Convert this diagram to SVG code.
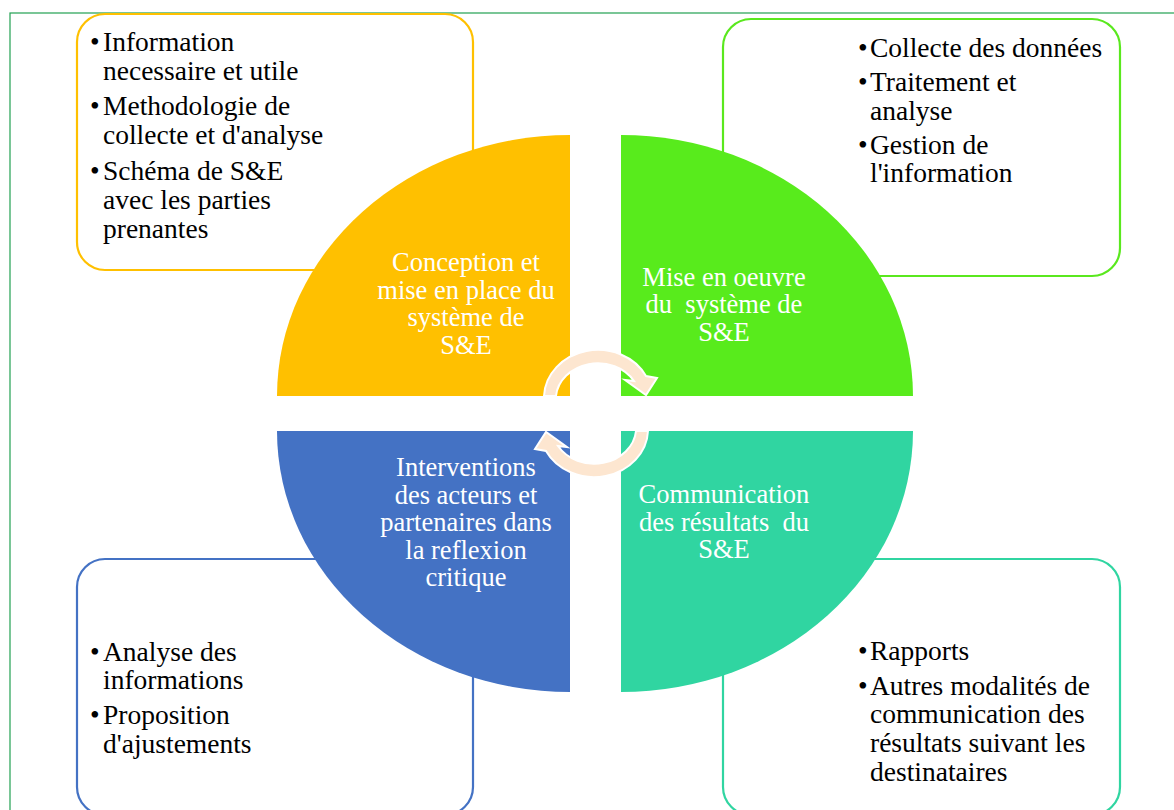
<svg xmlns="http://www.w3.org/2000/svg" width="1174" height="810" viewBox="0 0 1174 810">
<style>
.frame{fill:none;stroke:#22A152;stroke-width:1.2}
.box{fill:#fff;stroke-width:2.2}
.body{font-family:"Liberation Serif","Times New Roman",serif;font-size:27.5px;fill:#000}
.q{font-family:"Liberation Serif","Times New Roman",serif;font-size:26.5px;fill:#fff;text-anchor:middle}
.arr{fill:#FDE6D0;stroke:#fff;stroke-width:2;stroke-linejoin:miter}
</style>
<rect width="1174" height="810" fill="#fff"/>
<rect class="frame" x="10" y="13" width="1200" height="900"/>

<g id="box-tl">
<rect class="box" x="77" y="14" width="396" height="256" rx="28" stroke="#FFC000"/>
<text class="body"><tspan x="90" y="51">•</tspan><tspan x="103" y="51">Information</tspan><tspan x="103" y="79.7">necessaire et utile</tspan><tspan x="90" y="115">•</tspan><tspan x="103" y="115">Methodologie de</tspan><tspan x="103" y="143.7">collecte et d'analyse</tspan><tspan x="90" y="180">•</tspan><tspan x="103" y="180">Schéma de S&amp;E</tspan><tspan x="103" y="208.7">avec les parties</tspan><tspan x="103" y="237.5">prenantes</tspan></text>
</g>
<g id="box-tr">
<rect class="box" x="723" y="19" width="397" height="257" rx="28" stroke="#5AE81E"/>
<text class="body"><tspan x="858" y="57.3">•</tspan><tspan x="870" y="57.3">Collecte des données</tspan><tspan x="858" y="91">•</tspan><tspan x="870" y="91">Traitement et</tspan><tspan x="870" y="119.5">analyse</tspan><tspan x="858" y="153.5">•</tspan><tspan x="870" y="153.5">Gestion de</tspan><tspan x="870" y="182.2">l'information</tspan></text>
</g>
<g id="box-bl">
<rect class="box" x="77" y="559" width="396" height="256" rx="28" stroke="#4472C4"/>
<text class="body"><tspan x="90" y="660.5">•</tspan><tspan x="103" y="660.5">Analyse des</tspan><tspan x="103" y="689.2">informations</tspan><tspan x="90" y="724">•</tspan><tspan x="103" y="724">Proposition</tspan><tspan x="103" y="752.7">d'ajustements</tspan></text>
</g>
<g id="box-br">
<rect class="box" x="723" y="559" width="397" height="256" rx="28" stroke="#30D5A1"/>
<text class="body"><tspan x="858" y="660">•</tspan><tspan x="870" y="660">Rapports</tspan><tspan x="858" y="694.6">•</tspan><tspan x="870" y="694.6">Autres modalités de</tspan><tspan x="870" y="723.3">communication des</tspan><tspan x="870" y="752">résultats suivant les</tspan><tspan x="870" y="780.7">destinataires</tspan></text>
</g>

<g id="q-tl">
<path d="M570 396 L277 396 A293 261 0 0 1 570 135 Z" fill="#FFC000"/>
<text class="q"><tspan x="466" y="271">Conception et</tspan><tspan x="466" y="298.5">mise en place du</tspan><tspan x="466" y="326">système de</tspan><tspan x="466" y="353.5">S&amp;E</tspan></text>
</g>
<g id="q-tr">
<path d="M621 396 L621 135 A292 261 0 0 1 913 396 Z" fill="#58EB1C"/>
<text class="q" xml:space="preserve"><tspan x="724" y="285.5">Mise en oeuvre</tspan><tspan x="724" y="313">du  système de</tspan><tspan x="724" y="340.5">S&amp;E</tspan></text>
</g>
<g id="q-bl">
<path d="M570 431 L570 692 A293 261 0 0 1 277 431 Z" fill="#4472C4"/>
<text class="q"><tspan x="466" y="476">Interventions</tspan><tspan x="466" y="503.5">des acteurs et</tspan><tspan x="466" y="531">partenaires dans</tspan><tspan x="466" y="558.5">la reflexion</tspan><tspan x="466" y="586">critique</tspan></text>
</g>
<g id="q-br">
<path d="M621 431 L913 431 A292 261 0 0 1 621 692 Z" fill="#30D5A1"/>
<text class="q" xml:space="preserve"><tspan x="724" y="503">Communication</tspan><tspan x="724" y="530.5">des résultats  du</tspan><tspan x="724" y="558">S&amp;E</tspan></text>
</g>

<g id="connectors">
<path id="arrow-top" class="arr" d="M544 396 A54 48 0 0 1 646 376 L657 378 L646 395 L625 380 L634 381 A42 36 0 0 0 556 396 Z"/>
<path id="arrow-bottom" class="arr" d="M544 396 A54 48 0 0 1 646 376 L657 378 L646 395 L625 380 L634 381 A42 36 0 0 0 556 396 Z" transform="rotate(180 596 413.5)"/>
</g>
</svg>
